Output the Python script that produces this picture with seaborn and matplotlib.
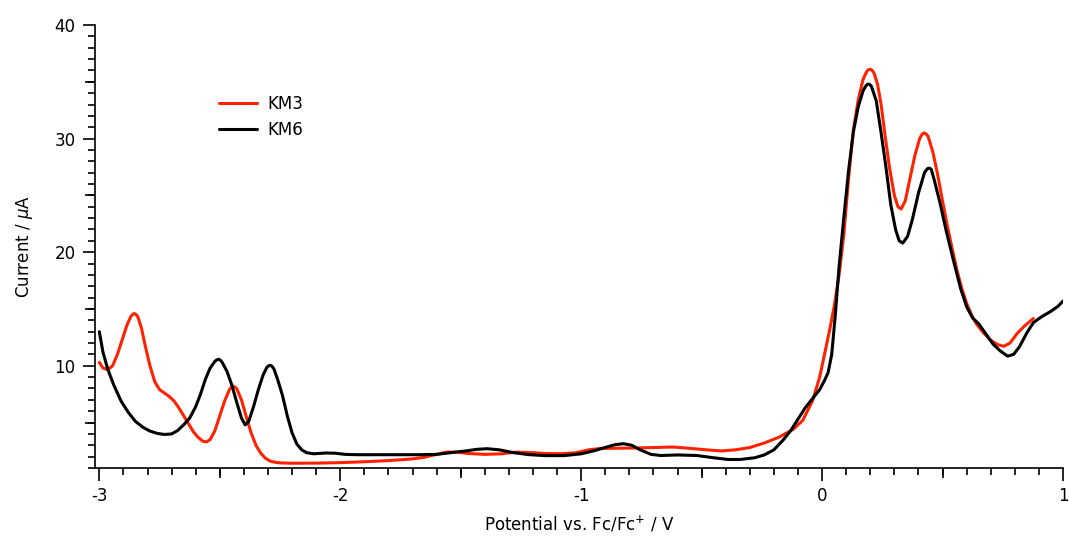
import numpy as np
import pandas as pd
import matplotlib
matplotlib.use("Agg")
import matplotlib.pyplot as plt
import seaborn as sns
from matplotlib.ticker import MultipleLocator

# KM3 (red)
km3_potential = [
    -3.000, -2.985, -2.965, -2.945, -2.925, -2.905, -2.885, -2.870, -2.862, -2.855,
    -2.847, -2.840, -2.825, -2.810, -2.790, -2.770, -2.750, -2.730, -2.710, -2.690,
    -2.670, -2.650, -2.630, -2.610, -2.590, -2.570, -2.555, -2.540, -2.520, -2.500,
    -2.480, -2.460, -2.452, -2.445, -2.437, -2.430, -2.410, -2.390, -2.370, -2.350,
    -2.330, -2.310, -2.290, -2.270, -2.250, -2.200, -2.100, -2.000, -1.900, -1.800,
    -1.700, -1.650, -1.600, -1.560, -1.520, -1.470, -1.400, -1.330, -1.270, -1.200,
    -1.150, -1.080, -1.020, -0.970, -0.920, -0.850, -0.780, -0.700, -0.620, -0.560,
    -0.480, -0.420, -0.360, -0.300, -0.240, -0.180, -0.120, -0.080, -0.040, -0.010,
    0.010, 0.030, 0.050, 0.070, 0.090, 0.110, 0.130, 0.150, 0.170, 0.185,
    0.193, 0.200, 0.207, 0.215, 0.230, 0.245, 0.260, 0.280, 0.300, 0.315,
    0.328, 0.345, 0.365, 0.385, 0.405, 0.415, 0.423, 0.431, 0.440, 0.460,
    0.480, 0.500, 0.520, 0.540, 0.560, 0.580, 0.600, 0.620, 0.640, 0.670,
    0.700, 0.730, 0.755, 0.780, 0.810, 0.840, 0.877,
]
km3_current = [
    10.3, 9.8, 9.65, 10.0, 11.0, 12.3, 13.6, 14.3, 14.52, 14.6,
    14.5, 14.3, 13.3, 11.8, 10.0, 8.6, 7.9, 7.6, 7.3, 6.9,
    6.3, 5.6, 4.9, 4.2, 3.7, 3.35, 3.3, 3.5, 4.3, 5.6,
    6.9, 7.9, 8.12, 8.2, 8.12, 8.0, 7.0, 5.5, 4.1, 3.0,
    2.3, 1.85, 1.6, 1.5, 1.45, 1.42, 1.43, 1.47, 1.55, 1.65,
    1.8, 1.95, 2.2, 2.4, 2.4, 2.28, 2.2, 2.25, 2.4, 2.35,
    2.28, 2.26, 2.35, 2.6, 2.72, 2.74, 2.76, 2.8, 2.85, 2.75,
    2.6, 2.5, 2.6, 2.8, 3.2, 3.7, 4.4, 5.2, 6.9, 9.0,
    11.0, 13.0, 15.2, 17.9, 21.5, 26.5, 30.8, 33.4, 35.2, 35.9,
    36.07, 36.1, 36.02, 35.8, 34.8, 33.0, 30.5, 27.4, 25.0, 24.0,
    23.8, 24.5, 26.5, 28.5, 30.0, 30.38, 30.5, 30.42, 30.2, 28.8,
    26.8, 24.5, 22.3, 20.3, 18.4, 16.8, 15.5, 14.5, 13.7, 12.9,
    12.25, 11.85, 11.72, 12.0, 12.85, 13.5, 14.16,
]

# KM6 (black)
km6_potential = [
    -3.000, -2.985, -2.965, -2.940, -2.910, -2.880, -2.850, -2.820, -2.790, -2.760,
    -2.730, -2.700, -2.675, -2.650, -2.625, -2.600, -2.580, -2.560, -2.540, -2.520,
    -2.512, -2.505, -2.498, -2.490, -2.470, -2.450, -2.430, -2.410, -2.395, -2.380,
    -2.360, -2.340, -2.320, -2.305, -2.297, -2.290, -2.283, -2.275, -2.260, -2.240,
    -2.220, -2.200, -2.180, -2.160, -2.140, -2.110, -2.060, -2.020, -1.980, -1.930,
    -1.850, -1.750, -1.680, -1.600, -1.540, -1.480, -1.430, -1.390, -1.340, -1.280,
    -1.220, -1.150, -1.070, -1.000, -0.950, -0.900, -0.860, -0.825, -0.790, -0.755,
    -0.710, -0.670, -0.600, -0.520, -0.450, -0.390, -0.340, -0.280, -0.240, -0.200,
    -0.160, -0.130, -0.100, -0.070, -0.040, -0.010, 0.010, 0.025, 0.040, 0.055,
    0.070, 0.090, 0.110, 0.130, 0.150, 0.170, 0.182, 0.190, 0.197, 0.205,
    0.225, 0.245, 0.265, 0.285, 0.305, 0.320, 0.335, 0.355, 0.375, 0.400,
    0.425, 0.437, 0.445, 0.453, 0.465, 0.490, 0.515, 0.545, 0.575, 0.600,
    0.625, 0.650, 0.680, 0.710, 0.740, 0.770, 0.795, 0.820, 0.850, 0.877,
    0.910, 0.950, 0.980, 1.000,
]
km6_current = [
    13.0, 11.2, 9.7, 8.3, 6.9, 5.9, 5.1, 4.6, 4.25, 4.05,
    3.95, 4.0, 4.3, 4.8, 5.4, 6.4, 7.5, 8.8, 9.8, 10.4,
    10.52, 10.57, 10.5, 10.3, 9.5, 8.3, 6.8, 5.4, 4.8, 5.1,
    6.4, 7.9, 9.2, 9.85, 10.0, 10.04, 9.95, 9.7, 8.8, 7.4,
    5.6, 4.1, 3.1, 2.6, 2.35, 2.25, 2.32, 2.3, 2.2, 2.17,
    2.17, 2.17, 2.17, 2.2, 2.35, 2.5, 2.65, 2.7, 2.6, 2.35,
    2.18, 2.09, 2.09, 2.25, 2.5, 2.8, 3.05, 3.14, 3.0, 2.6,
    2.2, 2.1, 2.15, 2.1, 1.9, 1.75, 1.75, 1.9, 2.15, 2.6,
    3.5, 4.3, 5.3, 6.3, 7.1, 7.9, 8.7, 9.4, 11.0, 14.5,
    18.6, 23.0, 27.2, 30.6, 32.8, 34.2, 34.65, 34.8, 34.78, 34.6,
    33.3, 30.5, 27.5, 24.2, 22.0, 21.0, 20.8, 21.4, 22.9, 25.2,
    27.0, 27.35, 27.4, 27.3, 26.4, 24.3, 21.9, 19.3, 16.8, 15.2,
    14.2, 13.7, 12.8, 11.9, 11.3, 10.85, 11.0, 11.7, 12.9, 13.8,
    14.3, 14.8, 15.25, 15.7,
]

series_names = ["KM3", "KM6"]
series_colors = ["#ff2200", "#000000"]

df = pd.concat([
    pd.DataFrame({"potential": km3_potential, "current": km3_current, "sample": "KM3"}),
    pd.DataFrame({"potential": km6_potential, "current": km6_current, "sample": "KM6"}),
])

sns.set_style("ticks")
plt.rcParams["font.family"] = ["DejaVu Sans"]
plt.rcParams.update({
    "text.color": "black",
    "axes.labelcolor": "black",
    "axes.edgecolor": "black",
    "xtick.color": "black",
    "ytick.color": "black",
})

fig = plt.figure(figsize=(10.69, 5.44), dpi=100)
ax = fig.add_axes([95 / 1069, 1 - 468 / 544, (1063 - 95) / 1069, (468 - 25) / 544])

sns.lineplot(
    data=df, x="potential", y="current", hue="sample",
    hue_order=series_names, palette=series_colors,
    estimator=None, sort=False, linewidth=2.2, ax=ax,
)

ax.set_xlim(-3.018, 1.0)
ax.set_ylim(1.0, 40)
ax.xaxis.set_minor_locator(MultipleLocator(0.1))
ax.yaxis.set_minor_locator(MultipleLocator(1))
ax.set_xticks([-3, -2, -1, 0, 1])
ax.set_xticklabels(["-3", "-2", "-1", "0", "1"])
ax.set_yticks([10, 20, 30, 40])

for side in ["top", "right"]:
    ax.spines[side].set_visible(False)
for side in ["left", "bottom"]:
    ax.spines[side].set_linewidth(1.2)
    ax.spines[side].set_color("black")

ax.tick_params(which="major", length=9, width=1.2, direction="out", labelsize=12, pad=5)
ax.tick_params(which="minor", length=5, width=1.2, direction="out")

# medium ticks at the halves
secx = ax.secondary_xaxis("bottom")
secx.set_xticks([-2.5, -1.5, -0.5, 0.5])
secx.tick_params(length=7, width=1.2, labelbottom=False)
secx.spines["bottom"].set_visible(False)
secy = ax.secondary_yaxis("left")
secy.set_yticks([5, 15, 25, 35])
secy.tick_params(length=7, width=1.2, labelleft=False)
secy.spines["left"].set_visible(False)

ax.set_xlabel("Potential vs. Fc/Fc$^{+}$ / V", fontsize=12, labelpad=6)
ax.set_ylabel("Current / $\\mu$A", fontsize=12, labelpad=14)

ax.legend(
    loc="upper left", bbox_to_anchor=(0.128, 0.842), frameon=False,
    fontsize=12, handlelength=2.3, handletextpad=0.6, labelspacing=0.5,
    borderpad=0, borderaxespad=0,
)

fig.savefig("out.png", dpi=100)
plt.close(fig)
